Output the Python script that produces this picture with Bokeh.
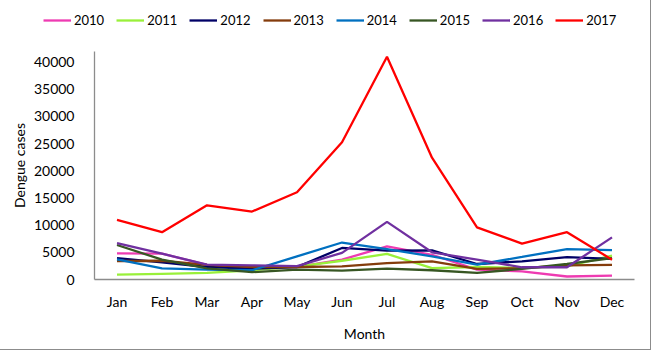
from bokeh.plotting import figure
from bokeh.layouts import column, row
from bokeh.models import FactorRange, Range1d, Legend, LegendItem
from bokeh.embed import file_html
from bokeh.resources import INLINE

months = ["Jan", "Feb", "Mar", "Apr", "May", "Jun", "Jul", "Aug", "Sep", "Oct", "Nov", "Dec"]

y2010 = [4800, 4750, 2700, 2150, 2300, 3650, 6100, 4550, 1800, 1500, 550, 700]
y2011 = [900, 1050, 1200, 1700, 2350, 3450, 4700, 2100, 2300, 2150, 2400, 4400]
y2012 = [3950, 3150, 2300, 2000, 2300, 5800, 5300, 5350, 2850, 3350, 4100, 3800]
y2013 = [3400, 3450, 2700, 2300, 2300, 2400, 3000, 3350, 1950, 2100, 2600, 2700]
y2014 = [3700, 2050, 1800, 1700, 4250, 6800, 5600, 4250, 2750, 4150, 5600, 5400]
y2015 = [6350, 3650, 2050, 1350, 1800, 1650, 2000, 1700, 1200, 1950, 2850, 3950]
y2016 = [6700, 4750, 2750, 2600, 2450, 4900, 10600, 5000, 3650, 2250, 2250, 7750]
y2017 = [10950, 8700, 13650, 12500, 16050, 25250, 40950, 22400, 9600, 6600, 8700, 3650]

series = [
    ("2010", y2010, "#EE3BB2"),
    ("2011", y2011, "#99F03A"),
    ("2012", y2012, "#000066"),
    ("2013", y2013, "#843C0C"),
    ("2014", y2014, "#0070C0"),
    ("2015", y2015, "#375623"),
    ("2016", y2016, "#7030A0"),
    ("2017", y2017, "#FF0000"),
]

FONT = "Lato"
LINE_W = 2.3

# --- legend strip (top) ---
top = figure(
    width=650, height=51,
    x_range=FactorRange(*months, range_padding=0),
    y_range=Range1d(-2, -1),
    output_backend="svg", toolbar_location=None,
    min_border_left=0, min_border_right=0, min_border_top=0, min_border_bottom=0,
    x_axis_type=None, y_axis_type=None,
)
top.outline_line_color = None
top.xgrid.grid_line_color = None
top.ygrid.grid_line_color = None

# --- main chart ---
p = figure(
    width=650, height=298,
    x_range=FactorRange(*months, range_padding=0),
    y_range=Range1d(0, 41930),
    output_backend="svg", toolbar_location=None,
    min_border_left=94, min_border_right=16, min_border_top=0, min_border_bottom=70,
)
p.outline_line_color = None
p.xgrid.grid_line_color = None
p.ygrid.grid_line_color = None

items = []
for label, vals, color in series:
    p.line(x=months, y=vals, line_color=color, line_width=LINE_W)
    # proxy renderer (outside the strip's range) used only for the legend key
    r = top.line(x=months, y=vals, line_color=color, line_width=LINE_W)
    items.append(LegendItem(label=label, renderers=[r]))

legend = Legend(
    items=items, orientation="horizontal", location=(43, 23),
    glyph_width=28, glyph_height=14, label_height=14, label_standoff=3, spacing=12,
    padding=0, margin=0, border_line_color=None, background_fill_alpha=0,
    label_text_font=FONT, label_text_font_size="13px", label_text_color="#000000",
)
top.add_layout(legend, "center")

for ax in (p.xaxis[0], p.yaxis[0]):
    ax.axis_line_color = "#8c8c8c"
    ax.axis_line_width = 1.3
    ax.major_tick_line_color = None
    ax.minor_tick_line_color = None
    ax.major_label_text_font = FONT
    ax.major_label_text_font_size = "14px"
    ax.major_label_text_color = "#000000"
    ax.axis_label_text_font = FONT
    ax.axis_label_text_font_size = "14px"
    ax.axis_label_text_font_style = "normal"
    ax.axis_label_text_color = "#000000"

p.yaxis.ticker = [0, 5000, 10000, 15000, 20000, 25000, 30000, 35000, 40000]
p.yaxis.major_label_standoff = 14
p.yaxis.axis_label = "Dengue cases"
p.yaxis.axis_label_standoff = 3
p.xaxis.major_label_standoff = 7
p.xaxis.axis_label = "Month"
p.xaxis.axis_label_standoff = 12

layout = column(row(top, spacing=0), row(p, spacing=0), spacing=0)
layout.styles = {"outline": "1px solid #8c8c8c", "outline-offset": "0px"}

open("out.html", "w").write(file_html(layout, INLINE))
